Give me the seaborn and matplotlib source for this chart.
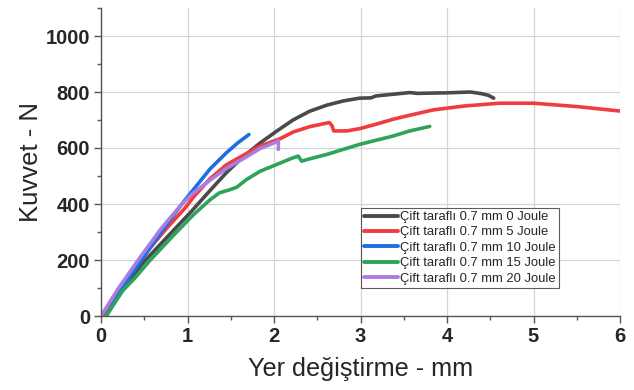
import numpy as np
import pandas as pd
import seaborn as sns
import matplotlib
matplotlib.use("Agg")
import matplotlib.pyplot as plt
from matplotlib.ticker import MultipleLocator

labels = ["Çift taraflı 0.7 mm 0 Joule", "Çift taraflı 0.7 mm 5 Joule",
          "Çift taraflı 0.7 mm 10 Joule", "Çift taraflı 0.7 mm 15 Joule",
          "Çift taraflı 0.7 mm 20 Joule"]
colors = ["#4a4a4a", "#f03c3e", "#1f6ee0", "#2ea35c", "#a97ee0"]

x0 = [0.05, 0.23, 0.50, 0.79, 1.04, 1.26, 1.45, 1.64, 1.84, 2.03, 2.22, 2.41, 2.61,
      2.80, 2.99, 3.12, 3.18, 3.38, 3.57, 3.66, 3.80, 4.0, 4.27, 4.40, 4.48, 4.54]
y0 = [0, 90, 195, 290, 372, 448, 512, 568, 618, 660, 700, 731, 753,
      768, 778, 779, 786, 792, 798, 795, 796, 797, 800, 794, 788, 778]

x5 = [0.03, 0.23, 0.45, 0.75, 0.97, 1.07, 1.26, 1.45, 1.64, 1.84, 2.07, 2.22, 2.41, 2.64,
      2.67, 2.69, 2.84, 2.99, 3.18, 3.38, 3.57, 3.84, 4.2, 4.61, 5.0, 5.5, 6.0]
y5 = [0, 98, 200, 310, 385, 425, 490, 540, 573, 607, 633, 657, 676, 691,
      680, 661, 661, 669, 685, 703, 717, 736, 750, 760, 760, 748, 732]

x10 = [0.06, 0.24, 0.47, 0.73, 0.96, 1.07, 1.26, 1.45, 1.58, 1.71]
y10 = [0, 98, 200, 314, 410, 452, 525, 583, 618, 648]

x15 = [0.06, 0.25, 0.39, 0.57, 0.85, 1.07, 1.26, 1.37, 1.49, 1.57, 1.68, 1.84, 2.03, 2.22,
       2.28, 2.32, 2.41, 2.61, 2.99, 3.38, 3.57, 3.80]
y15 = [0, 90, 135, 200, 292, 362, 415, 440, 451, 460, 487, 517, 541, 565,
       571, 553, 561, 577, 613, 643, 661, 677]

x20 = [0.0, 0.20, 0.43, 0.70, 0.93, 1.07, 1.26, 1.45, 1.64, 1.84, 2.03, 2.05, 2.05]
y20 = [0, 98, 200, 314, 398, 440, 485, 527, 561, 598, 622, 626, 595]

frames = []
for lab, xs, ys in zip(labels, [x0, x5, x10, x15, x20], [y0, y5, y10, y15, y20]):
    frames.append(pd.DataFrame({"x": xs, "y": ys, "series": lab}))
df = pd.concat(frames, ignore_index=True)

sns.set_theme(style="white")
plt.rcParams["font.family"] = ["Liberation Sans", "DejaVu Sans"]

fig = plt.figure(figsize=(6.34, 3.90), dpi=100)
ax = fig.add_axes([101 / 634, 74 / 390, 519 / 634, 308 / 390])

sns.lineplot(data=df, x="x", y="y", hue="series", palette=colors, sort=False,
             estimator=None, linewidth=2.6, ax=ax, legend=True)
for ln in ax.get_lines():
    ln.set_solid_joinstyle("round")
    ln.set_solid_capstyle("round")

ax.set_xlim(0, 6)
ax.set_ylim(0, 1100)
ax.xaxis.set_major_locator(MultipleLocator(1))
ax.xaxis.set_minor_locator(MultipleLocator(0.5))
ax.yaxis.set_major_locator(MultipleLocator(200))
ax.yaxis.set_minor_locator(MultipleLocator(100))
ax.set_yticks([0, 200, 400, 600, 800, 1000])
ax.grid(True, which="major", color="#d4d4d4", linewidth=0.9)
ax.set_axisbelow(True)

for s in ["top", "right"]:
    ax.spines[s].set_visible(False)
for s in ["left", "bottom"]:
    ax.spines[s].set_color("#555555")
    ax.spines[s].set_linewidth(1.0)

ax.tick_params(which="major", direction="out", length=5, width=1, color="#555555",
               labelsize=14.5, pad=3, left=True, bottom=True)
ax.tick_params(which="minor", direction="out", length=3, width=1, color="#555555",
               left=True, bottom=True)
for t in ax.get_xticklabels() + ax.get_yticklabels():
    t.set_fontweight("bold")

ax.set_xlabel("Yer değiştirme - mm", fontsize=18.2, labelpad=8)
ax.set_ylabel("Kuvvet - N", fontsize=18.5, labelpad=2)

leg = ax.legend(loc="lower left", bbox_to_anchor=(0.501, 0.091), fontsize=9.4,
                frameon=True, fancybox=False, handlelength=2.6, handletextpad=0.15,
                borderpad=0.25, labelspacing=0.25, borderaxespad=0)
leg.get_frame().set_edgecolor("#333333")
leg.get_frame().set_linewidth(0.8)
for line in leg.get_lines():
    line.set_linewidth(2.8)

fig.savefig("out.png", dpi=100)
